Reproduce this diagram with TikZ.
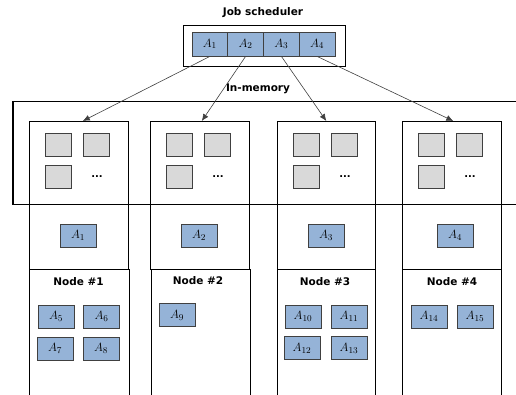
\documentclass[tikz,border=0pt]{standalone}
\usepackage{fontspec}
\setsansfont{DejaVu Sans}
\usetikzlibrary{arrows.meta}
\definecolor{taskblue}{HTML}{95B3D7}
\definecolor{slotgray}{HTML}{D9D9D9}
\definecolor{edgegray}{HTML}{404040}
\tikzset{
  task/.style={draw=edgegray, line width=0.8pt, fill=taskblue, rectangle,
    minimum width=36pt, minimum height=23pt, inner sep=0pt,
    font=\fontsize{12.5}{12.5}\selectfont},
  slot/.style={draw=edgegray, line width=0.8pt, fill=slotgray, rectangle,
    minimum width=26pt, minimum height=23pt, inner sep=0pt},
  colbox/.style={draw=black, line width=0.6pt, rectangle, inner sep=0pt, anchor=north west},
  title/.style={font=\sffamily\bfseries\fontsize{10.5}{12}\selectfont, inner sep=0pt},
  dots/.style={font=\sffamily\bfseries\fontsize{10}{10}\selectfont, inner sep=0pt},
  dispatch/.style={draw=edgegray, line width=0.6pt, -{Latex[length=7pt,width=6pt]}},
}
\begin{document}
\begin{tikzpicture}[x=1pt, y=-1pt]
\useasboundingbox (0,0) rectangle (516,395);
\clip (0,0) rectangle (516,395);

% job scheduler with its queue of tasks
\node[title] (schedtitle) at (263,13) {Job scheduler};
\node[draw=black, line width=0.6pt, rectangle, anchor=north west, minimum width=162pt, minimum height=41pt, inner sep=0pt] (sched) at (183,25) {};
\node[task, minimum width=35.75pt, minimum height=24pt] (a1) at (209.9,44) {$A_1$};
\node[task, minimum width=35.75pt, minimum height=24pt] (a2) at (245.6,44) {$A_2$};
\node[task, minimum width=35.75pt, minimum height=24pt] (a3) at (281.4,44) {$A_3$};
\node[task, minimum width=35.75pt, minimum height=24pt] (a4) at (317.1,44) {$A_4$};

% in-memory region
\node[title] (memtitle) at (258,89) {In-memory};
\node[draw=black, line width=1.5pt, rectangle, anchor=north west, minimum width=520pt, minimum height=103pt, inner sep=0pt] (mem) at (12,101) {};

% worker columns: memory part and node part
\node[colbox, minimum width=99pt, minimum height=148pt] (c1) at (29,121) {};
\node[colbox, minimum width=99pt, minimum height=148pt] (c2) at (150,121) {};
\node[colbox, minimum width=98pt, minimum height=148pt] (c3) at (277,121) {};
\node[colbox, minimum width=99pt, minimum height=148pt] (c4) at (402,121) {};

\node[colbox, minimum width=100pt, minimum height=140pt] (n1) at (29,269) {};
\node[colbox, minimum width=99pt, minimum height=140pt] (n2) at (151,269) {};
\node[colbox, minimum width=98pt, minimum height=140pt] (n3) at (277,269) {};
\node[colbox, minimum width=99pt, minimum height=140pt] (n4) at (402,269) {};

% cached slots in memory
\foreach \k/\x in {1/29,2/150,3/277,4/402}{
  \node[slot] (s\k a) at (\x+29,144.5) {};
  \node[slot] (s\k b) at (\x+67.5,144.5) {};
  \node[slot] (s\k c) at (\x+29,177) {};
  \node[dots] (d\k) at (\x+68,177) {...};
}

% tasks dispatched to each node
\node[task] (m1) at (78,235.5) {$A_1$};
\node[task] (m2) at (199,235.5) {$A_2$};
\node[task] (m3) at (326,235.5) {$A_3$};
\node[task] (m4) at (455,235.5) {$A_4$};

% node labels
\node[title] (t1) at (78.5,282) {Node \#1};
\node[title] (t2) at (198,281) {Node \#2};
\node[title] (t3) at (325,282) {Node \#3};
\node[title] (t4) at (452,282) {Node \#4};

% tasks held by the nodes
\node[task] (b5) at (56,316.5) {$A_5$};
\node[task] (b6) at (101.5,316.5) {$A_6$};
\node[task] (b7) at (55,348.5) {$A_7$};
\node[task] (b8) at (101,348.5) {$A_8$};
\node[task] (b9) at (177,315) {$A_9$};
\node[task] (b10) at (303,316.5) {$A_{10}$};
\node[task] (b11) at (349,316.5) {$A_{11}$};
\node[task] (b12) at (302,348) {$A_{12}$};
\node[task] (b13) at (349,348) {$A_{13}$};
\node[task] (b14) at (429,316.5) {$A_{14}$};
\node[task] (b15) at (475,316.5) {$A_{15}$};

% dispatch arrows
\draw[dispatch] (a1.south) -- ([xshift=4pt]c1.north);
\draw[dispatch] (a2.south) -- ([xshift=2pt]c2.north);
\draw[dispatch] (a3.south) -- (c3.north);
\draw[dispatch] (a4.south) -- ([xshift=1.5pt]c4.north);
\end{tikzpicture}
\end{document}
